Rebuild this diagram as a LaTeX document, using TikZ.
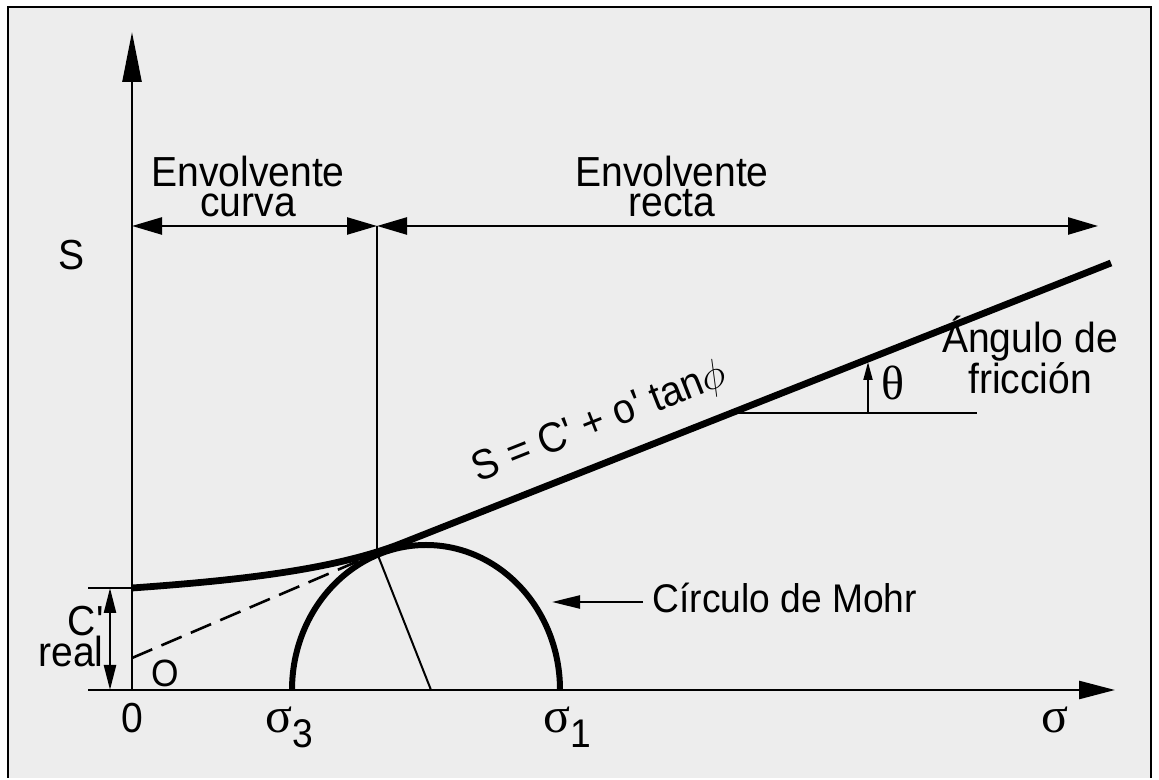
\documentclass[tikz,border=0pt]{standalone}
\usepackage{fontspec}
\setmainfont{Liberation Sans}[Ligatures=TeXOff, FakeStretch=0.93]
\newfontfamily\grk{Liberation Serif}
\usetikzlibrary{arrows.meta, positioning, calc}
\definecolor{panel}{RGB}{237,237,237}

\begin{document}
\begin{tikzpicture}[
  x=0.5pt, y=0.5pt,
  lbl/.style={font=\fontsize{21}{15}\selectfont, align=center, inner sep=0pt},
  sig/.style={font=\fontsize{25}{25}\selectfont\grk, inner sep=0pt},
  axisline/.style={line width=1.3pt},
  envl/.style={line width=3.4pt},
  thinline/.style={line width=1pt},
  dim/.style={line width=1.2pt,
              {Triangle[length=15pt,width=8.5pt]}-{Triangle[length=15pt,width=8.5pt]}},
  pointer/.style={line width=1.2pt, -{Triangle[length=14pt,width=6.5pt]}}
]
% panel
\fill[white] (0,0) rectangle (1159,778);
\fill[panel] (8,0) rectangle (1151,771);
\draw[line width=1.2pt] (8,0) -- (8,771) -- (1151,771) -- (1151,0);

% points
\coordinate (O)      at (132,88);
\coordinate (xstart) at (88,88);
\coordinate (xend)   at (1115,88);
\coordinate (ytop)   at (132,746);
\coordinate (creal)  at (132,190);
\coordinate (ctick)  at (88,190);
\coordinate (cA)     at (110,190);
\coordinate (cB)     at (110,88);
\coordinate (dimL)   at (132,552);
\coordinate (dimM)   at (377,552);
\coordinate (dimR)   at (1098,552);
\coordinate (tan)    at (377,225);
\coordinate (foot)   at (431,88);
\coordinate (s3)     at (292,88);
\coordinate (s1)     at (560,88);
\coordinate (join)   at (400,234);
\coordinate (envEnd) at (1111,515);
\coordinate (o0)     at (132,120);
\coordinate (fricL)  at (731,365);
\coordinate (fricR)  at (977,365);
\coordinate (thB)    at (868,365);
\coordinate (thT)    at (868,416);
\coordinate (mohrR)  at (643,176);
\coordinate (mohrL)  at (552,176);

% axes
\draw[axisline, -{Triangle[length=25pt,width=9.5pt]}] (O) -- (ytop);
\draw[axisline, -{Triangle[length=18pt,width=9pt]}] (xstart) -- (xend);
\draw[axisline] (ctick) -- (creal);
\draw[line width=1.2pt,
      {Triangle[length=12.5pt,width=6pt]}-{Triangle[length=12.5pt,width=6pt]}]
      (cA) -- (cB);

% envelope, circle
\draw[line width=1.3pt, dash pattern=on 11pt off 5pt] (o0) -- (tan);
\draw[thinline] (tan) -- (foot);
\draw[thinline] (dimM) -- (tan);
\draw[line width=3pt] (s3) arc[start angle=180, end angle=0,
                               x radius=67pt, y radius=72.5pt];
\draw[envl] (creal) .. controls (230,197) and (330,207) .. (join) -- (envEnd);

% dimensions
\draw[dim] (dimL) -- (dimM);
\draw[dim] (dimM) -- (dimR);

% friction angle
\draw[thinline] (fricL) -- (fricR);
\draw[thinline, -{Triangle[length=9pt,width=4.5pt]}] (thB) -- (thT);
\draw[pointer] (mohrR) -- (mohrL);

% labels
\node[lbl] (curva) at (248,591) {Envolvente\\curva};
\node[lbl] (recta) at (672,591) {Envolvente\\recta};
\node[lbl] (slbl)  at (72,523)  {S};
\node[lbl] (zero)  at (132,60)  {0};
\node[sig, anchor=base] (sig) at (1055,45) {σ};
\node[sig, anchor=base west] (sig3) at (265,45)
     {σ\raisebox{-7.5pt}{\fontsize{20}{20}\selectfont\rmfamily 3}};
\node[sig, anchor=base west] (sig1) at (543,45)
     {σ\raisebox{-7.5pt}{\fontsize{20}{20}\selectfont\rmfamily 1}};
\node[lbl, font=\fontsize{19}{19}\selectfont] (olbl) at (165,105) {O};
\node[lbl, align=right, anchor=east, font=\fontsize{21}{15.5}\selectfont]
     (clbl) at (104,141) {C'\\real};
\node[lbl, rotate=21.6] (eq) at (600,355) {S = C' + o' tan$\phi$};
\node[lbl, font=\fontsize{21}{17.5}\selectfont] (fric) at (1030,423)
     {Ángulo de\\fricción};
\node[sig, font=\fontsize{24}{24}\selectfont\grk] (theta) at (893,395) {θ};
\node[lbl, anchor=west, font=\fontsize{20}{15}\selectfont] (mohr) at (652,180)
     {Círculo de Mohr};
\end{tikzpicture}
\end{document}
